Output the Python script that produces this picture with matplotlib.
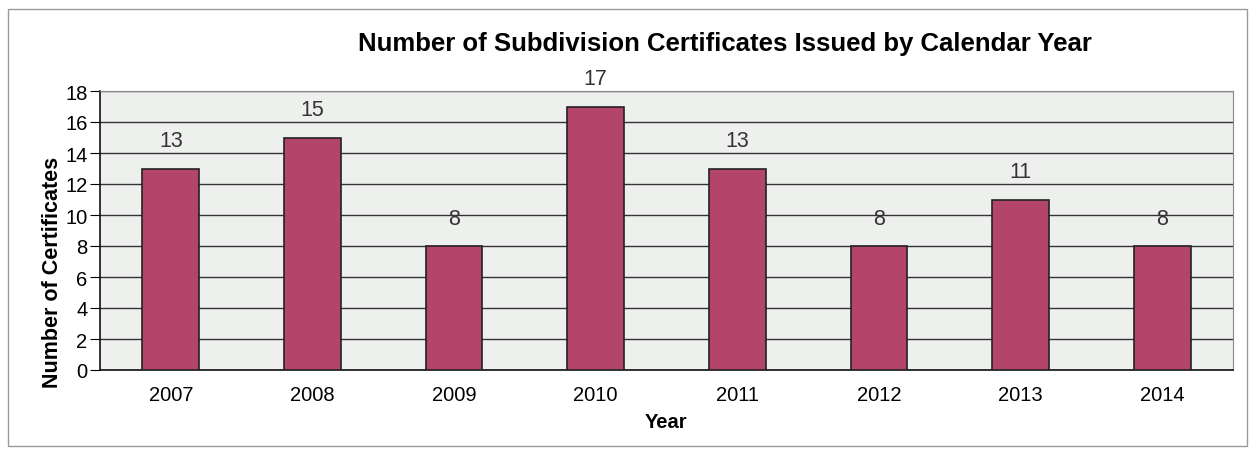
import matplotlib.pyplot as plt
from matplotlib.patches import Rectangle

years = ["2007", "2008", "2009", "2010", "2011", "2012", "2013", "2014"]
certificates = [13, 15, 8, 17, 13, 8, 11, 8]
y_ticks = list(range(0, 19, 2))

W, H = 1252, 452
fig = plt.figure(figsize=(W / 100, H / 100), dpi=100)
plt.rcParams['font.family'] = ['Liberation Sans', 'DejaVu Sans']

# plot area in pixels: left 100, right 1233, top 92, bottom 371
ax = fig.add_axes([100 / W, 1 - 371 / H, (1233 - 100) / W, (371 - 92) / H])
ax.set_facecolor('#eef0ee')

x = range(len(years))
bars = ax.bar(x, certificates, width=0.4, color='#b3456b', edgecolor='#222222', linewidth=1.2, zorder=3)
for xi, v in zip(x, certificates):
    ax.text(xi, v + 1.8, str(v), ha='center', va='center', fontsize=15.5, color='#333333')

ax.set_xlim(-0.5, len(years) - 0.5)
ax.set_ylim(0, 18)
ax.set_yticks(y_ticks)
ax.set_xticks(list(x))
ax.set_xticklabels(years)
ax.tick_params(axis='y', labelsize=14.5, length=7, direction='out', pad=2)
ax.tick_params(axis='x', labelsize=14.5, length=0, pad=11)
ax.yaxis.grid(True, color='#333333', linewidth=1.0, zorder=0)
ax.set_axisbelow(True)

for side in ['top', 'right']:
    ax.spines[side].set_color('#888888')
    ax.spines[side].set_linewidth(0.8)
ax.spines['left'].set_color('#111111')
ax.spines['bottom'].set_color('#111111')
ax.spines['left'].set_linewidth(1.2)
ax.spines['bottom'].set_linewidth(1.2)

fig.text(725 / W, 1 - 44 / H, "Number of Subdivision Certificates Issued by Calendar Year",
         ha='center', va='center', fontsize=18.5, fontweight='bold')
fig.text(666 / W, 1 - 423 / H, "Year", ha='center', va='center', fontsize=14.5, fontweight='bold')
fig.text(53 / W, 1 - 272 / H, "Number of Certificates", ha='center', va='center',
         rotation=90, fontsize=15.5, fontweight='bold')

# outer chart border
fig.patches.append(Rectangle((8 / W, 1 - 447 / H), (1247 - 8) / W, (447 - 10) / H,
                             transform=fig.transFigure, fill=False, edgecolor='#999999', linewidth=1.0))

fig.savefig("out.png", dpi=100, facecolor='white')
